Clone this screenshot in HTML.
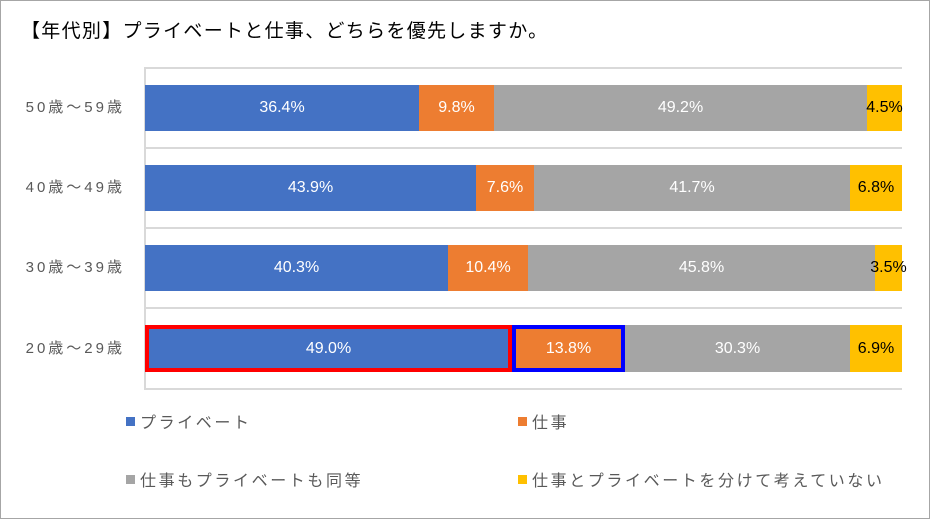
<!DOCTYPE html>
<html><head><meta charset="utf-8"><style>
body{margin:0;background:#fff;font-family:"Liberation Sans","Noto Sans CJK JP",sans-serif;}
#c{position:relative;width:928px;height:517px;border:1px solid #a6a6a6;overflow:hidden;background:#fff}
.t{position:absolute;left:20px;top:15px;font-size:19px;color:#000;letter-spacing:1.3px}
.g{position:absolute;left:144px;width:757px;height:2px;background:#d9d9d9}
.ax{position:absolute;left:143px;top:66px;width:2px;height:323px;background:#d9d9d9}
.row{position:absolute;left:144px;width:757px;height:46px;display:flex}
.row div{height:100%;display:flex;align-items:center;justify-content:center;font-size:16px;color:#fff;box-sizing:border-box;white-space:nowrap;overflow:visible}
.b{background:#4472c4}.o{background:#ed7d31}.gr{background:#a5a5a5}.y{background:#ffc000;color:#000!important}
.lab{position:absolute;right:804px;font-size:15px;color:#595959;letter-spacing:3px}
.lg{position:absolute;font-size:16px;color:#595959;display:flex;align-items:center;letter-spacing:2.6px}
.lg i{display:inline-block;width:9px;height:9px;margin-right:5px}
</style></head><body><div id="c">
<div class="t">【年代別】プライベートと仕事、どちらを優先しますか。</div>
<div class="g" style="top:66px"></div><div class="g" style="top:146px"></div><div class="g" style="top:226px"></div><div class="g" style="top:306px"></div><div class="g" style="top:387px"></div>
<div class="ax"></div>
<div class="lab" style="top:95px">50歳～59歳</div>
<div class="lab" style="top:175px">40歳～49歳</div>
<div class="lab" style="top:255px">30歳～39歳</div>
<div class="lab" style="top:336px">20歳～29歳</div>
<div class="row" style="top:84px"><div class="b" style="width:274px">36.4%</div><div class="o" style="width:75px">9.8%</div><div class="gr" style="width:373px">49.2%</div><div class="y" style="width:35px">4.5%</div></div>
<div class="row" style="top:164px"><div class="b" style="width:331px">43.9%</div><div class="o" style="width:58px">7.6%</div><div class="gr" style="width:316px">41.7%</div><div class="y" style="width:52px">6.8%</div></div>
<div class="row" style="top:244px"><div class="b" style="width:303px">40.3%</div><div class="o" style="width:80px">10.4%</div><div class="gr" style="width:347px">45.8%</div><div class="y" style="width:27px">3.5%</div></div>
<div class="row" style="top:324px;height:47px"><div class="b" style="width:367px;border:4px solid #ff0000">49.0%</div><div class="o" style="width:113px;border:4px solid #0000ff">13.8%</div><div class="gr" style="width:225px">30.3%</div><div class="y" style="width:52px">6.9%</div></div>
<div class="lg" style="left:125px;top:408px"><i style="background:#4472c4"></i>プライベート</div>
<div class="lg" style="left:517px;top:408px"><i style="background:#ed7d31"></i>仕事</div>
<div class="lg" style="left:125px;top:466px"><i style="background:#a5a5a5"></i>仕事もプライベートも同等</div>
<div class="lg" style="left:517px;top:466px"><i style="background:#ffc000"></i>仕事とプライベートを分けて考えていない</div>
</div></body></html>
